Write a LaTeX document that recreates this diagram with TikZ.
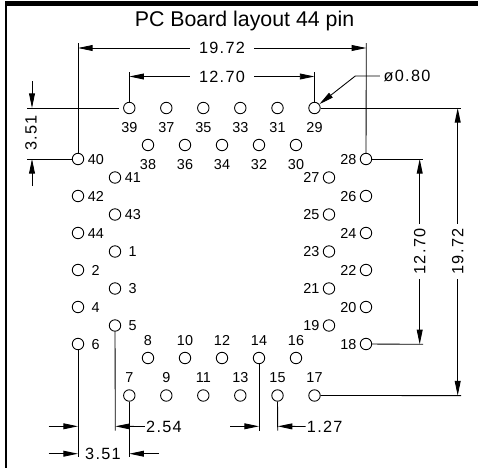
\documentclass[tikz,border=0pt]{standalone}
\usepackage{fontspec}
\usepackage{tikz}
\usetikzlibrary{arrows.meta}
\setmainfont{Liberation Sans}
\newfontfamily\cadfont[LetterSpace=8]{Liberation Sans}
\tikzset{
    pad/.style={shape=circle,draw=black,line width=0.65pt,inner sep=0pt,minimum size=8.6pt},
    pinnum/.style={font=\fontsize{10.8}{11}\selectfont,inner sep=0pt,text height=7.5pt,text depth=0pt},
    numbelow/.style={label={[pinnum,label distance=6pt]below:#1}},
    numabove/.style={label={[pinnum,label distance=4.8pt]above:#1}},
    numright/.style={label={[pinnum,label distance=2.6pt]right:#1}},
    numfar/.style={label={[pinnum,label distance=5.4pt]right:#1}},
    numleft/.style={label={[pinnum,label distance=2.4pt]left:#1}},
    dimtext/.style={font=\cadfont\fontsize{12.2}{13}\selectfont,inner sep=0pt,text height=8.5pt,text depth=0pt},
    extline/.style={draw=black,line width=0.65pt},
    dimarrow/.style={draw=black,line width=0.65pt,-{Stealth[length=11pt,width=4.4pt,inset=0pt]}},
}
\begin{document}
\begin{tikzpicture}[x=0.75pt,y=-0.75pt]
    \useasboundingbox (0,0) rectangle (478,468);
    \fill[black] (5,1) rectangle (478,6);
    \fill[black] (5,1) rectangle (7,468);
    \node[font=\fontsize{16}{18}\selectfont,inner sep=0pt] (title) at (244.5,21) {PC Board layout 44 pin};

    % top pads
    \node[pad,numbelow=39] (p39) at (129.3,108) {};
    \node[pad,numbelow=37] (p37) at (166.3,108) {};
    \node[pad,numbelow=35] (p35) at (203.3,108) {};
    \node[pad,numbelow=33] (p33) at (240.3,108) {};
    \node[pad,numbelow=31] (p31) at (277.5,108) {};
    \node[pad,numbelow=29] (p29) at (314.5,108) {};
    \node[pad,numbelow=38] (p38) at (148,145) {};
    \node[pad,numbelow=36] (p36) at (185,145) {};
    \node[pad,numbelow=34] (p34) at (222,145) {};
    \node[pad,numbelow=32] (p32) at (259,145) {};
    \node[pad,numbelow=30] (p30) at (296,145) {};

    % left pads
    \node[pad,numright=40] (p40) at (78,159) {};
    \node[pad,numright=42] (p42) at (78,196) {};
    \node[pad,numright=44] (p44) at (78,233) {};
    \node[pad,numfar=2] (p2) at (78,270) {};
    \node[pad,numfar=4] (p4) at (78,307) {};
    \node[pad,numfar=6] (p6) at (78,344) {};
    \node[pad,numright=41] (p41) at (115,177.5) {};
    \node[pad,numright=43] (p43) at (115,214.5) {};
    \node[pad,numfar=1] (p1) at (115,251.5) {};
    \node[pad,numfar=3] (p3) at (115,288.5) {};
    \node[pad,numfar=5] (p5) at (115,325.5) {};

    % right pads
    \node[pad,numleft=28] (p28) at (366,159) {};
    \node[pad,numleft=26] (p26) at (366,196) {};
    \node[pad,numleft=24] (p24) at (366,233) {};
    \node[pad,numleft=22] (p22) at (366,270) {};
    \node[pad,numleft=20] (p20) at (366,307) {};
    \node[pad,numleft=18] (p18) at (366,344) {};
    \node[pad,numleft=27] (p27) at (329,177.5) {};
    \node[pad,numleft=25] (p25) at (329,214.5) {};
    \node[pad,numleft=23] (p23) at (329,251.5) {};
    \node[pad,numleft=21] (p21) at (329,288.5) {};
    \node[pad,numleft=19] (p19) at (329,325.5) {};

    % bottom pads
    \node[pad,numabove=8] (p8) at (148,358) {};
    \node[pad,numabove=10] (p10) at (185,358) {};
    \node[pad,numabove=12] (p12) at (222,358) {};
    \node[pad,numabove=14] (p14) at (259,358) {};
    \node[pad,numabove=16] (p16) at (296,358) {};
    \node[pad,numabove=7] (p7) at (129.3,395.5) {};
    \node[pad,numabove=9] (p9) at (166.3,395.5) {};
    \node[pad,numabove=11] (p11) at (203.3,395.5) {};
    \node[pad,numabove=13] (p13) at (240.3,395.5) {};
    \node[pad,numabove=15] (p15) at (277.5,395.5) {};
    \node[pad,numabove=17] (p17) at (314.5,395.5) {};

    % dimension texts
    \node[dimtext,minimum width=48pt] (d1972top) at (222,48) {19.72};
    \node[dimtext,minimum width=48pt] (d1270top) at (222,76.5) {12.70};
    \node[dimtext,inner xsep=2.6pt] (d080) at (407,76) {ø0.80};
    \node[dimtext,rotate=90] (d351left) at (31,133) {3.51};
    \node[dimtext,rotate=90,minimum width=41pt] (d1270right) at (419.7,251.5) {12.70};
    \node[dimtext,rotate=90,minimum width=41pt] (d1972right) at (457.7,251.5) {19.72};
    \node[dimtext,inner xsep=0.8pt] (d254) at (164,426.5) {2.54};
    \node[dimtext,inner xsep=0.8pt] (d127) at (324.7,426.5) {1.27};
    \node[dimtext] (d351low) at (103,454) {3.51};

    % free ends of the extension lines
    \coordinate (e40) at (78,43);
    \coordinate (e28) at (366.3,43);
    \coordinate (e39) at (129.3,72);
    \coordinate (e29) at (314.5,72);
    \coordinate (g39) at (119,108);
    \coordinate (s39) at (27,108);
    \coordinate (s40) at (27,159);
    \coordinate (s29) at (461,108);
    \coordinate (s28) at (423,159);
    \coordinate (s18) at (423,344.3);
    \coordinate (s17) at (461,395.6);
    \coordinate (e6) at (78,457);
    \coordinate (e7) at (129.3,457);
    \coordinate (e5) at (115.3,430.7);
    \coordinate (e14) at (259,430.7);
    \coordinate (e15) at (277.7,430.7);

    \draw[extline] (p40) -- (e40);
    \draw[extline] (p28) -- (e28);
    \draw[extline] (p39) -- (e39);
    \draw[extline] (p29) -- (e29);
    \draw[extline] (g39) -- (s39);
    \draw[extline] (p40) -- (s40);
    \draw[extline] (p29) -- (s29);
    \draw[extline] (p28) -- (s28);
    \draw[extline] (p18) -- (s18);
    \draw[extline] (p17) -- (s17);
    \draw[extline] (p6) -- (e6);
    \draw[extline] (p7) -- (e7);
    \draw[extline] (p5) -- (e5);
    \draw[extline] (p14) -- (e14);
    \draw[extline] (p15) -- (e15);

    % arrow ends
    \coordinate (a40) at (78,48);
    \coordinate (a28) at (366.3,48);
    \coordinate (a39) at (129.3,76.5);
    \coordinate (a29) at (314.5,76.5);
    \coordinate (a080) at (355.3,76);
    \coordinate (b39) at (32,108);
    \coordinate (b40) at (32,159);
    \coordinate (t39) at (32,81);
    \coordinate (t40) at (32,186);
    \coordinate (r28) at (419.7,159);
    \coordinate (r18) at (419.7,344.3);
    \coordinate (r29) at (457.7,108);
    \coordinate (r17) at (457.7,395.6);
    \coordinate (l6) at (48.7,426.3);
    \coordinate (m6) at (78,426.3);
    \coordinate (m5) at (115.3,426.3);
    \coordinate (l6b) at (48.7,453.7);
    \coordinate (m6b) at (78,453.7);
    \coordinate (m7b) at (129.3,453.7);
    \coordinate (r7b) at (159,453.7);
    \coordinate (l14) at (230,426.3);
    \coordinate (m14) at (259,426.3);
    \coordinate (m15) at (277.7,426.3);

    \draw[dimarrow] (d1972top.west) -- (a40);
    \draw[dimarrow] (d1972top.east) -- (a28);
    \draw[dimarrow] (d1270top.west) -- (a39);
    \draw[dimarrow] (d1270top.east) -- (a29);
    \draw[dimarrow] (d080.west) -- (a080) -- (p29);
    \draw[dimarrow] (t39) -- (b39);
    \draw[dimarrow] (t40) -- (b40);
    \draw[dimarrow] (d1270right.east) -- (r28);
    \draw[dimarrow] (d1270right.west) -- (r18);
    \draw[dimarrow] (d1972right.east) -- (r29);
    \draw[dimarrow] (d1972right.west) -- (r17);
    \draw[dimarrow] (l6) -- (m6);
    \draw[dimarrow] (d254.west) -- (m5);
    \draw[dimarrow] (l6b) -- (m6b);
    \draw[dimarrow] (r7b) -- (m7b);
    \draw[dimarrow] (l14) -- (m14);
    \draw[dimarrow] (d127.west) -- (m15);
\end{tikzpicture}
\end{document}
